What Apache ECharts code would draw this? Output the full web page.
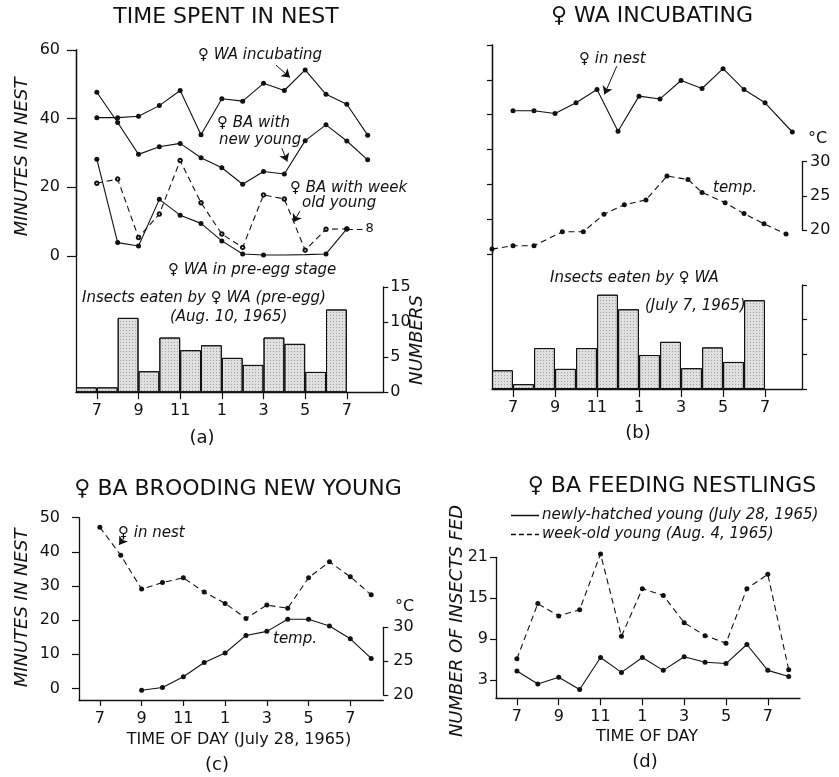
<!DOCTYPE html>
<html>
<head>
<meta charset="utf-8">
<script src="https://cdn.jsdelivr.net/npm/echarts@6.0.0/dist/echarts.min.js"></script>
<style>
html, body { margin: 0; padding: 0; background: #fff; }
#main { width: 839px; height: 777px; }
</style>
</head>
<body>
<div id="main"></div>
<script>
// clock hours (24h) that carry a tick and a label on every time axis
var tickHours = [7, 9, 11, 13, 15, 17, 19];
var tickNames = { 7: '7', 9: '9', 11: '11', 13: '1', 15: '3', 17: '5', 19: '7' };

// (a) time spent in nest, minutes per hour
var hoursA = [7, 8, 9, 10, 11, 12, 13, 14, 15, 16, 17, 18, 19, 20];
var waIncubating = [40.3, 40.3, 40.7, 43.8, 48.2, 35.3, 45.8, 45.1, 50.3, 48.2, 54.2, 47.1, 44.2, 35.2];
var baNewYoung = [47.7, 38.9, 29.6, 31.8, 32.8, 28.6, 25.7, 20.9, 24.6, 23.9, 33.6, 38.2, 33.5, 28.0];
var hoursWeekOld = [7, 8, 9, 10, 11, 12, 13, 14, 15, 16, 17, 18, 19];
var baWeekOld = [21.2, 22.4, 5.4, 12.2, 27.8, 15.5, 6.4, 2.5, 17.8, 16.6, 1.7, 7.8, 7.9];
var hoursPreEgg = [7, 8, 9, 10, 11, 12, 13, 14, 15, 16, 17, 18, 19];
var waPreEgg = [28.2, 3.9, 2.9, 16.5, 11.9, 9.5, 4.4, 0.6, 0.3, 0.3, 0.4, 0.6, 7.9];
var preEggNoDot = [16, 17];
// insects eaten, one bar per hour (start hour)
var barHours = [6, 7, 8, 9, 10, 11, 12, 13, 14, 15, 16, 17, 18];
var insectsA = [0.7, 0.7, 10.6, 3.0, 7.8, 6.0, 6.7, 4.9, 3.9, 7.8, 6.9, 2.9, 11.8];

// (b) WA incubating
var hoursB = [7, 8, 9, 10, 11, 12, 13, 14, 15, 16, 17, 18, 19, 20.3];
var inNestB = [41.1, 41.1, 40.3, 43.4, 47.2, 35.2, 45.3, 44.5, 49.8, 47.5, 53.2, 47.2, 43.4, 35.0];
var tempHoursB = [6, 7, 8, 9.35, 10.35, 11.33, 12.3, 13.33, 14.33, 15.33, 16, 17.1, 18, 18.95, 20];
var tempB = [17.2, 17.7, 17.7, 19.75, 19.75, 22.3, 23.7, 24.4, 27.9, 27.4, 25.5, 24.0, 22.4, 20.9, 19.4];
var insectsB = [2.7, 0.7, 5.9, 2.9, 5.9, 13.6, 11.5, 4.9, 6.8, 3.0, 6.0, 3.9, 12.8];

// (c) BA brooding new young
var hoursC = [7, 8, 9, 10, 11, 12, 13, 14, 15, 16, 17, 18, 19, 20];
var inNestC = [47.2, 39.0, 29.1, 31.0, 32.4, 28.2, 24.9, 20.5, 24.4, 23.5, 32.4, 37.1, 32.7, 27.4];
var tempHoursC = [9, 10, 11, 12, 13, 14, 15, 16, 17, 18, 19, 20];
var tempC = [20.7, 21.1, 22.7, 24.8, 26.2, 28.8, 29.4, 31.2, 31.2, 30.2, 28.3, 25.4];

// (d) BA feeding nestlings
var hoursD = [7, 8, 9, 10, 11, 12, 13, 14, 15, 16, 17, 18, 19, 20];
var newlyHatched = [4.3, 2.4, 3.4, 1.6, 6.3, 4.1, 6.3, 4.4, 6.4, 5.6, 5.4, 8.2, 4.4, 3.5];
var weekOld = [6.1, 14.2, 12.4, 13.3, 21.5, 9.4, 16.4, 15.4, 11.4, 9.5, 8.4, 16.4, 18.5, 4.5];

var ink = '#111';
var fam = '"DejaVu Sans", sans-serif';

function pts(xs, ys) { return xs.map(function (x, i) { return [x, ys[i]]; }); }
function bars(xs, ys) { return xs.map(function (x, i) { return [x + 0.5, ys[i]]; }); }

function hiddenX(g, max) { return { gridIndex: g, type: 'value', min: 6, max: max, show: false }; }
function hourX(g, max, tick) {
  return {
    gridIndex: g, type: 'value', min: 6, max: max,
    axisLine: { show: true, onZero: false, lineStyle: { color: ink, width: 1.3 } },
    axisTick: { show: true, customValues: tickHours, length: tick, lineStyle: { color: ink, width: 1.2 } },
    axisLabel: { customValues: tickHours, formatter: function (v) { return tickNames[v]; },
      margin: 11, color: ink, fontSize: 16, fontFamily: fam },
    splitLine: { show: false }
  };
}
function valY(g, pos, min, max, o) {
  var a = {
    gridIndex: g, type: 'value', position: pos, min: min, max: max,
    axisLine: { show: true, onZero: false, lineStyle: { color: ink, width: 1.3 } },
    axisTick: { show: o.tick > 0, length: o.tick, lineStyle: { color: ink, width: 1.2 } },
    axisLabel: { show: !!o.labels, margin: o.margin || 8, color: ink, fontSize: 16, fontFamily: fam },
    splitLine: { show: false }
  };
  if (o.interval) a.interval = o.interval;
  if (o.values) { a.axisTick.customValues = o.values; a.axisLabel.customValues = o.values; }
  return a;
}
function arrow(from, to, curve) {
  return [
    { coord: from, symbol: 'none', lineStyle: { type: 'solid', width: 1, color: ink, curveness: curve || 0 } },
    { coord: to, symbol: 'arrow' }
  ];
}
function lineSeries(x, y, data, dash, extra) {
  var s = {
    type: 'line', xAxisIndex: x, yAxisIndex: y, data: data,
    symbol: 'circle', symbolSize: 5, clip: false,
    itemStyle: { color: ink },
    lineStyle: { color: ink, width: 1.1, type: dash ? [6, 4] : 'solid' }
  };
  return Object.assign(s, extra || {});
}
function arrowMark(list) {
  return { silent: true, symbolSize: 8, label: { show: false }, data: list };
}
function barSeries(x, y, data) {
  return {
    type: 'bar', xAxisIndex: x, yAxisIndex: y, data: data, barWidth: 20.8,
    itemStyle: {
      color: '#e0e0e0', borderColor: ink, borderWidth: 1,
      decal: { symbol: 'rect', symbolSize: 1, dashArrayX: [1, 2], dashArrayY: [1, 2],
        color: 'rgba(0,0,0,0.28)' }
    }
  };
}

function txt(x, y, s, font, align, rot) {
  var el = {
    type: 'text', x: x, y: y, silent: true,
    style: { text: s, fill: ink, font: font, textAlign: align || 'left', align: align || 'left',
      textVerticalAlign: 'middle', verticalAlign: 'middle' }
  };
  if (rot) el.rotation = rot;
  return el;
}
var titleFont = '22px ' + fam;
var noteFont = 'italic 15px ' + fam;
var nameFont = 'italic 18px ' + fam;
var up = Math.PI / 2;

var preEggData = pts(hoursPreEgg, waPreEgg).map(function (p) {
  return preEggNoDot.indexOf(p[0]) >= 0 ? { value: p, symbol: 'none' } : p;
});

var option = {
  animation: false,
  backgroundColor: '#fff',
  textStyle: { fontFamily: fam, color: ink },
  grid: [
    { left: 76, top: 50, width: 307.3, height: 206, outerBoundsMode: 'none' },      // 0 a lines
    { left: 76, top: 287, width: 307.3, height: 105.3, outerBoundsMode: 'none' },   // 1 a bars
    { left: 76, top: 50, width: 307.3, height: 342.3, outerBoundsMode: 'none' },    // 2 a left axis
    { left: 492, top: 45, width: 310, height: 208.8, outerBoundsMode: 'none' },     // 3 b lines
    { left: 492, top: 161.7, width: 310, height: 68.3, outerBoundsMode: 'none' },   // 4 b temp
    { left: 492, top: 285, width: 310, height: 104, outerBoundsMode: 'none' },      // 5 b bars
    { left: 492, top: 45, width: 310, height: 344, outerBoundsMode: 'none' },       // 6 b left axis
    { left: 79, top: 517.7, width: 304.3, height: 182.3, outerBoundsMode: 'none' }, // 7 c
    { left: 79, top: 627.3, width: 304.3, height: 67.7, outerBoundsMode: 'none' },  // 8 c temp
    { left: 496, top: 557.3, width: 304, height: 141, outerBoundsMode: 'none' }     // 9 d
  ],
  xAxis: [
    hiddenX(0, 20.75), hourX(1, 20.75, 7), hiddenX(2, 20.75),
    hiddenX(3, 20.76), hiddenX(4, 20.76), hourX(5, 20.76, 8), hiddenX(6, 20.76),
    hourX(7, 20.58, 6), hiddenX(8, 20.58),
    hourX(9, 20.54, 7)
  ],
  yAxis: [
    valY(0, 'left', 0, 60, { interval: 20, tick: 9, labels: true, margin: 16 }),
    valY(1, 'right', 0, 15, { interval: 5, tick: 5, labels: true, margin: 7 }),
    valY(2, 'left', 0, 1, { tick: 0 }),
    valY(3, 'left', 0, 60, { interval: 10, tick: 5 }),
    valY(4, 'right', 20, 30, { interval: 5, tick: 5, labels: true, margin: 8 }),
    valY(5, 'right', 0, 15, { interval: 5, tick: 5 }),
    valY(6, 'left', 0, 1, { tick: 0 }),
    valY(7, 'left', -3.4, 50, { values: [0, 10, 20, 30, 40, 50], tick: 7, labels: true, margin: 19 }),
    valY(8, 'right', 20, 30, { interval: 5, tick: 5, labels: true, margin: 10 }),
    valY(9, 'left', 0.3, 21, { values: [3, 9, 15, 21], tick: 6, labels: true, margin: 8 })
  ],
  legend: {
    left: 506, top: 503, orient: 'vertical', itemGap: 4, itemWidth: 28, itemHeight: 1.5,
    selectedMode: false,
    textStyle: { fontStyle: 'italic', fontSize: 15, fontFamily: fam, color: ink, padding: [0, 0, 0, -2] },
    data: [
      { name: 'newly-hatched young (July 28, 1965)', icon: 'path://M0 0H28V1.5H0Z' },
      { name: 'week-old young (Aug. 4, 1965)', icon: 'path://M0 0H5V1.5H0ZM8 0H13V1.5H8ZM16 0H21V1.5H16ZM24 0H28V1.5H24Z' }
    ]
  },
  series: [
    lineSeries(0, 0, pts(hoursA, waIncubating), false, {
      markLine: arrowMark([arrow([15.6, 55.6], [16.27, 52.0])]) }),
    lineSeries(0, 0, pts(hoursA, baNewYoung), false, {
      markLine: arrowMark([arrow([15.88, 31.4], [16.14, 27.5])]) }),
    lineSeries(0, 0, pts(hoursWeekOld, baWeekOld), true, {
      symbol: 'emptyCircle', symbolSize: 3.5, itemStyle: { color: ink, borderWidth: 0.9 },
      markLine: {
        silent: true, symbolSize: 8, label: { show: false },
        data: [
          arrow([16.75, 13.1], [16.43, 9.8]),
          [{ coord: [19, 7.9], symbol: 'none', lineStyle: { type: [6, 4], width: 1.1, color: ink },
             label: { show: true, position: 'end', formatter: '8', distance: 3, fontSize: 13, color: ink } },
           { coord: [19.75, 7.9], symbol: 'none' }]
        ]
      } }),
    lineSeries(0, 0, preEggData, false, {
      markLine: arrowMark([arrow([12.67, -0.7], [13.1, 2.2])]) }),
    barSeries(1, 1, bars(barHours, insectsA)),

    lineSeries(3, 3, pts(hoursB, inNestB), false, {
      markLine: arrowMark([arrow([11.94, 53.9], [11.35, 45.8], -0.3)]) }),
    lineSeries(4, 4, pts(tempHoursB, tempB), true),
    barSeries(5, 5, bars(barHours, insectsB)),

    lineSeries(7, 7, pts(hoursC, inNestC), true, {
      markLine: arrowMark([arrow([8.16, 44.1], [7.92, 42.0])]) }),
    lineSeries(8, 8, pts(tempHoursC, tempC), false),

    lineSeries(9, 9, pts(hoursD, newlyHatched), false, { name: 'newly-hatched young (July 28, 1965)' }),
    lineSeries(9, 9, pts(hoursD, weekOld), true, { name: 'week-old young (Aug. 4, 1965)' })
  ],
  graphic: [
    txt(226, 17, 'TIME SPENT IN NEST', titleFont, 'center'),
    txt(652, 16, '♀ WA INCUBATING', titleFont, 'center'),
    txt(238, 489, '♀ BA BROODING NEW YOUNG', titleFont, 'center'),
    txt(672, 486, '♀ BA FEEDING NESTLINGS', titleFont, 'center'),

    txt(202, 438, '(a)', '18px ' + fam, 'center'),
    txt(638, 433, '(b)', '18px ' + fam, 'center'),
    txt(217, 765, '(c)', '18px ' + fam, 'center'),
    txt(645, 762, '(d)', '18px ' + fam, 'center'),

    txt(239, 740, 'TIME OF DAY (July 28, 1965)', '16px ' + fam, 'center'),
    txt(647, 737, 'TIME OF DAY', '16px ' + fam, 'center'),

    txt(22, 157, 'MINUTES IN NEST', nameFont, 'center', up),
    txt(22, 608, 'MINUTES IN NEST', nameFont, 'center', up),
    txt(457, 621, 'NUMBER OF INSECTS FED', nameFont, 'center', up),
    txt(417, 340, 'NUMBERS', nameFont, 'center', up),

    txt(198, 55, '♀ WA incubating', noteFont),
    txt(217, 123, '♀ BA with', noteFont),
    txt(219, 140, 'new young', noteFont),
    txt(290, 188, '♀ BA with week', noteFont),
    txt(302, 203, 'old young', noteFont),
    txt(168, 270, '♀ WA in pre-egg stage', noteFont),
    txt(82, 298, 'Insects eaten by ♀ WA (pre-egg)', noteFont),
    txt(170, 317, '(Aug. 10, 1965)', noteFont),

    txt(579, 59, '♀ in nest', noteFont),
    txt(713, 188, 'temp.', noteFont),
    txt(808, 139, '°C', '16px ' + fam),
    txt(550, 278, 'Insects eaten by ♀ WA', noteFont),
    txt(645, 306, '(July 7, 1965)', noteFont),

    txt(118, 533, '♀ in nest', noteFont),
    txt(273, 639, 'temp.', noteFont),
    txt(395, 607, '°C', '16px ' + fam)
  ]
};

var chart = echarts.init(document.getElementById('main'));
chart.setOption(option);
</script>
</body>
</html>
